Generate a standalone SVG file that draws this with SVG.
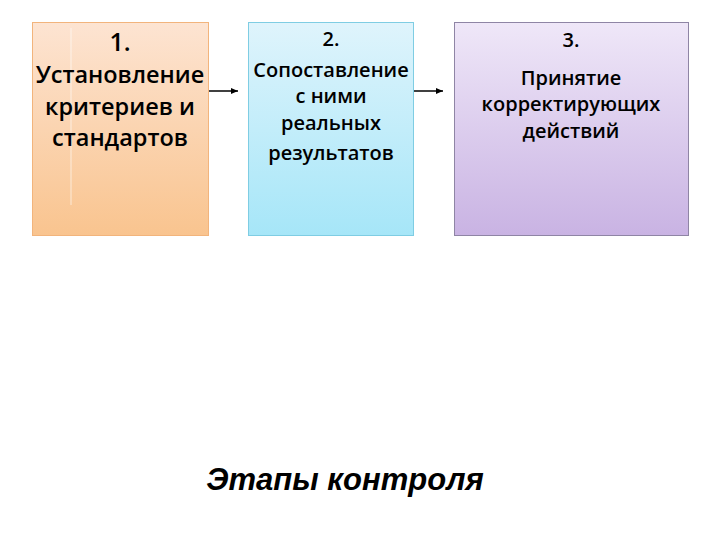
<svg xmlns="http://www.w3.org/2000/svg" width="720" height="540" viewBox="0 0 720 540">
<defs>
<linearGradient id="g1" x1="0" y1="0" x2="0" y2="1"><stop offset="0" stop-color="#fde4d2"/><stop offset="1" stop-color="#f9c48f"/></linearGradient>
<linearGradient id="g2" x1="0" y1="0" x2="0" y2="1"><stop offset="0" stop-color="#dff4fc"/><stop offset="1" stop-color="#a6e6f8"/></linearGradient>
<linearGradient id="g3" x1="0" y1="0" x2="0" y2="1"><stop offset="0" stop-color="#efe7f8"/><stop offset="1" stop-color="#c9b3e3"/></linearGradient>
<marker id="arr" markerWidth="8" markerHeight="8" refX="7" refY="4" orient="auto" markerUnits="userSpaceOnUse"><path d="M0,1 L7,4 L0,7 z" fill="#000"/></marker>
<style>
.t{font-family:"Open Sans","Noto Sans","Liberation Sans",sans-serif;font-weight:600;fill:#000;text-anchor:middle}
.b1{stroke:#f2b47c;stroke-width:1}
.b2{stroke:#7fcde3;stroke-width:1}
.b3{stroke:#8f85a5;stroke-width:1}
.c{stroke:#000;stroke-width:1.5;fill:none;marker-end:url(#arr)}
</style>
</defs>
<rect width="720" height="540" fill="#fff"/>
<g id="node1">
<rect x="32.5" y="22.5" width="176" height="213" fill="url(#g1)" class="b1"/>
<line x1="71" y1="28" x2="71" y2="205" stroke="#fff" stroke-opacity="0.6" stroke-width="1"/>
<text class="t" x="120" y="51" font-size="25">1.</text>
<text class="t" x="120" y="83" font-size="23.5">Установление</text>
<text class="t" x="120" y="115" font-size="23.5">критериев и</text>
<text class="t" x="120" y="146" font-size="23.5">стандартов</text>
</g>
<g id="node2">
<rect x="248.5" y="22.5" width="165" height="213" fill="url(#g2)" class="b2"/>
<text class="t" x="331" y="46" font-size="20">2.</text>
<text class="t" x="331" y="77" font-size="20">Сопоставление</text>
<text class="t" x="331" y="103" font-size="20">с ними</text>
<text class="t" x="331" y="130" font-size="20">реальных</text>
<text class="t" x="331" y="160" font-size="20">результатов</text>
</g>
<g id="node3">
<rect x="454.5" y="22.5" width="234" height="213" fill="url(#g3)" class="b3"/>
<text class="t" x="571" y="47" font-size="20">3.</text>
<text class="t" x="571" y="85" font-size="20">Принятие</text>
<text class="t" x="571" y="111" font-size="20">корректирующих</text>
<text class="t" x="571" y="138" font-size="20">действий</text>
</g>
<g id="connectors">
<line class="c" x1="209" y1="91" x2="238" y2="91"/>
<line class="c" x1="414" y1="91" x2="443" y2="91"/>
</g>
<text x="345" y="490" font-family="'Liberation Sans',Arial,sans-serif" font-style="italic" font-weight="bold" font-size="31" text-anchor="middle" fill="#000">Этапы контроля</text>
</svg>
